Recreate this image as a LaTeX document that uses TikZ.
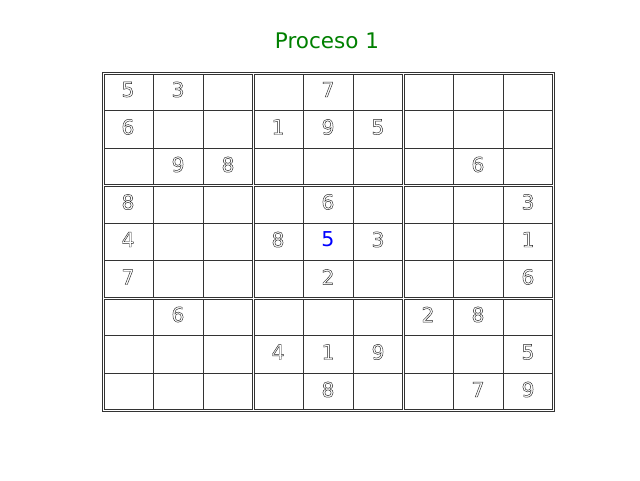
\documentclass[tikz,border=0pt]{standalone}
\usepackage{fontspec}
\setmainfont{DejaVu Sans}
\newcommand{\outl}[1]{\special{pdf:literal direct 1 Tr 0.45 w}#1\special{pdf:literal direct 0 Tr}}
\begin{document}
\begin{tikzpicture}[x=1pt,y=-1pt,
  gridline/.style={line width=0.8pt,draw=black!80},
  digit/.style={font=\fontsize{20.5}{24}\selectfont,text=black!85,inner sep=0pt,anchor=center},
  hint/.style={font=\fontsize{20.5}{24}\selectfont,text=blue,inner sep=0pt,anchor=center},
  titlestyle/.style={font=\fontsize{21.5}{25}\selectfont,text={rgb,255:red,0;green,128;blue,0},inner sep=0pt}]
\useasboundingbox[fill=white] (0,0) rectangle (640,480);
\node[titlestyle] (title) at (327,41) {Proceso 1};
% outer rectangle
\draw[gridline] (102,72) rectangle (554,411.5);
% boxes and cell lines
\foreach \bx in {0,1,2}{
  \foreach \by in {0,1,2}{
    \pgfmathsetmacro{\xa}{103+150*\bx}
    \pgfmathsetmacro{\ya}{73+112.5*\by}
    \draw[gridline] (\xa+1,\ya+1) rectangle (\xa+149,\ya+111.5);
    \draw[gridline] (\xa+50,\ya+1) -- (\xa+50,\ya+111.5);
    \draw[gridline] (\xa+100,\ya+1) -- (\xa+100,\ya+111.5);
    \draw[gridline] (\xa+1,\ya+37.5) -- (\xa+149,\ya+37.5);
    \draw[gridline] (\xa+1,\ya+75) -- (\xa+149,\ya+75);
  }
}
% digits
\foreach \c/\r/\d in {0/0/5,1/0/3,4/0/7,
  0/1/6,3/1/1,4/1/9,5/1/5,
  1/2/9,2/2/8,7/2/6,
  0/3/8,4/3/6,8/3/3,
  0/4/4,3/4/8,5/4/3,8/4/1,
  0/5/7,4/5/2,8/5/6,
  1/6/6,6/6/2,7/6/8,
  3/7/4,4/7/1,5/7/9,8/7/5,
  4/8/8,7/8/7,8/8/9}{
  \node[digit] (d\c\r) at (128+50*\c,89.5+37.5*\r) {\outl{\d}};
}
\node[hint] (d44) at (328,239.5) {5};
\end{tikzpicture}
\end{document}
